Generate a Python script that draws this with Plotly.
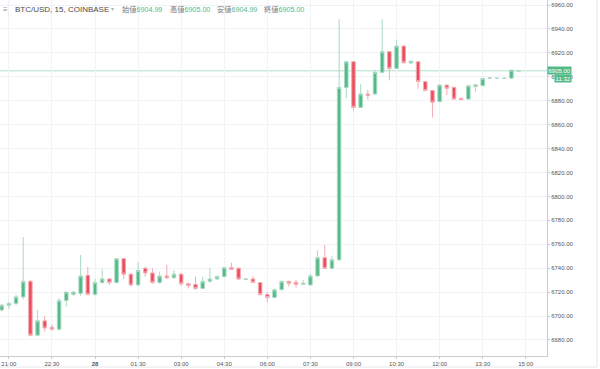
import plotly.graph_objects as go
import pandas as pd

# ---- data (15-minute candles, 20:45 -> 14:45) ----
start_time = "2018-08-27 20:45"
opens = [6705, 6709, 6710.5, 6716, 6729, 6684, 6696, 6690.5, 6689, 6713,
         6718, 6719, 6734, 6718, 6728, 6731, 6728, 6748, 6735, 6726,
         6740, 6736, 6728, 6733.5, 6732, 6735, 6727, 6726.5, 6723, 6729,
         6731, 6733, 6740.5, 6740, 6730.5, 6731, 6728, 6718, 6715.5, 6722,
         6729, 6728.2, 6726.5, 6726, 6733.5, 6748.8, 6739.9, 6747, 6891, 6912.6,
         6874.4, 6885.6, 6885.6, 6903.7, 6921, 6907, 6925.7, 6911.5, 6912.6, 6896,
         6888.6, 6879.2, 6893.1, 6891.2, 6882, 6881.4, 6891.8, 6892.6, 6898.9, 6898.7,
         6898.7, 6898.8, 6904.99]
highs = [6710, 6712, 6718, 6766, 6730, 6705, 6700, 6693, 6715, 6720,
         6721, 6751, 6741, 6731, 6739, 6731.5, 6748, 6748.5, 6735.5, 6745,
         6741, 6740, 6737, 6743, 6738.5, 6736, 6728, 6733, 6733, 6740,
         6734, 6741, 6744.6, 6740.5, 6731.5, 6733.5, 6728.5, 6720, 6723, 6729,
         6729.5, 6730.2, 6730.2, 6735.7, 6755, 6759.4, 6750.2, 6948, 6913, 6913,
         6894, 6889, 6906, 6948, 6921.5, 6931, 6926, 6913.5, 6913, 6896.5,
         6889, 6893.5, 6893.5, 6891.5, 6882.3, 6892.8, 6893.6, 6899, 6899.2, 6898.9,
         6898.9, 6905.7, 6905.0]
lows = [6704, 6706, 6709, 6714, 6683, 6683, 6687, 6688, 6688, 6708,
        6717, 6717, 6718, 6717, 6727, 6726, 6727, 6731, 6725, 6725.5,
        6733, 6727, 6727, 6731, 6731, 6725, 6723, 6722, 6722.5, 6728,
        6730, 6732, 6739, 6730, 6730, 6727.5, 6717, 6711.5, 6715, 6721.5,
        6724.6, 6723.8, 6726, 6725.5, 6733, 6739.5, 6739.5, 6746, 6882, 6872,
        6874, 6881, 6885, 6903, 6897, 6906.5, 6911, 6911, 6890, 6888,
        6866, 6878.7, 6884.8, 6881, 6880.7, 6881, 6887.6, 6892.4, 6898.7, 6898.6,
        6898.6, 6898.7, 6904.99]
closes = [6709, 6710.5, 6716, 6729, 6684, 6696, 6690, 6689, 6713, 6720,
          6720, 6733.5, 6718, 6728, 6731, 6728, 6748, 6735, 6726, 6738,
          6736, 6728, 6733.5, 6732, 6735, 6727, 6725.5, 6723, 6729, 6731,
          6733, 6740.5, 6739, 6731, 6731, 6728, 6718, 6715.5, 6722, 6729,
          6727.4, 6726.5, 6727.4, 6733.5, 6748.8, 6739.9, 6747, 6891, 6912.6, 6874.4,
          6885.6, 6884.6, 6903.7, 6921, 6907, 6925.7, 6911.8, 6913, 6896, 6888.6,
          6878.7, 6893.1, 6890.4, 6881.4, 6880.9, 6892.6, 6893.4, 6898.7, 6899, 6898.8,
          6898.8, 6905.6, 6905.0]

tick_times = ["2018-08-27 21:00", "2018-08-27 22:30", "2018-08-28 00:00", "2018-08-28 01:30",
              "2018-08-28 03:00", "2018-08-28 04:30", "2018-08-28 06:00", "2018-08-28 07:30",
              "2018-08-28 09:00", "2018-08-28 10:30", "2018-08-28 12:00", "2018-08-28 13:30",
              "2018-08-28 15:00"]
tick_labels = ["21:00", "22:30", "<b>28</b>", "01:30", "03:00", "04:30", "06:00", "07:30",
               "09:00", "10:30", "12:00", "13:30", "15:00"]

last_price = 6905.00
countdown = "11:32"
header_title = "BTC/USD, 15, COINBASE"
header_fields = [("始値", "6904.99"), ("高値", "6905.00"), ("安値", "6904.99"), ("終値", "6905.00")]

# ---- figure ----
times = pd.date_range(start_time, periods=len(opens), freq="15min")

UP = "#53b987"
DOWN = "#eb4d5c"
FONT = "Liberation Sans, Arial, Noto Sans CJK JP, sans-serif"
GRID = "#eff2f6"

W, H = 600, 369
PL, PR, PT, PB = 0, 53, 0, 13
PW, PH = W - PL - PR, H - PT - PB


def px(x):
    return (x - PL) / PW


def py(y):
    return 1 - (y - PT) / PH


fig = go.Figure()
fig.add_trace(go.Candlestick(
    x=times, open=opens, high=highs, low=lows, close=closes,
    increasing=dict(line=dict(color="#a9d9c2", width=1), fillcolor=UP),
    decreasing=dict(line=dict(color="#f3aab2", width=1), fillcolor=DOWN),
    whiskerwidth=0,
    showlegend=False,
    hoverinfo="skip",
))

annotations = []
# header
annotations.append(dict(x=px(1), y=py(9), xref="paper", yref="paper", text="≡",
                        showarrow=False, xanchor="left", yanchor="middle",
                        font=dict(family=FONT, size=8, color="#9a9a9a")))
annotations.append(dict(x=px(13), y=py(9), xref="paper", yref="paper", text=header_title,
                        showarrow=False, xanchor="left", yanchor="middle",
                        font=dict(family=FONT, size=8.0, color="#4a4a4a")))
annotations.append(dict(x=px(109), y=py(9), xref="paper", yref="paper", text="▾",
                        showarrow=False, xanchor="left", yanchor="middle",
                        font=dict(family=FONT, size=6, color="#b0b0b0")))
field_x = [120, 168, 215, 262]
for (lab, val), fx in zip(header_fields, field_x):
    annotations.append(dict(x=px(fx), y=py(9), xref="paper", yref="paper",
                            text=f"<span style='color:#7a7a7a'>{lab}</span><span style='color:{UP}'>{val}</span>",
                            showarrow=False, xanchor="left", yanchor="middle",
                            font=dict(family=FONT, size=7.2, color=UP)))

# price label boxes on the right axis
annotations.append(dict(x=px(572), y=last_price, xref="paper", yref="y", text=f"{last_price:.2f}",
                        showarrow=False, xanchor="right", yanchor="middle",
                        bgcolor=UP, borderpad=0.5,
                        font=dict(family=FONT, size=6, color="white")))
annotations.append(dict(x=px(572), y=py(78.5), xref="paper", yref="paper", text=countdown,
                        showarrow=False, xanchor="right", yanchor="middle",
                        bgcolor=UP, borderpad=0.5,
                        font=dict(family=FONT, size=6, color="white")))

shapes = [
    # last price line
    dict(type="line", xref="paper", yref="y", x0=0, x1=1, y0=last_price, y1=last_price,
         line=dict(color="rgba(83,185,135,0.45)", width=1), layer="below"),
    # widget frame
    dict(type="line", xref="paper", yref="paper", x0=px(0), x1=px(597), y0=py(367), y1=py(367),
         line=dict(color="#e3e6ea", width=1)),
    dict(type="line", xref="paper", yref="paper", x0=px(597), x1=px(597), y0=py(0), y1=py(367),
         line=dict(color="#e3e6ea", width=1)),
]

fig.update_layout(
    width=W, height=H,
    margin=dict(l=PL, r=PR, t=PT, b=PB),
    paper_bgcolor="white", plot_bgcolor="white",
    font=dict(family=FONT, size=6, color="#555555"),
    annotations=annotations,
    shapes=shapes,
    xaxis=dict(
        range=["2018-08-27 20:41:30", "2018-08-28 15:44:20"],
        rangeslider=dict(visible=False),
        tickvals=tick_times, ticktext=tick_labels,
        showgrid=True, gridcolor=GRID, gridwidth=1,
        showline=True, linecolor="#c9cdd2", linewidth=1,
        ticks="outside", ticklen=2, tickcolor="#c9cdd2",
        tickfont=dict(family=FONT, size=6, color="#555555"),
        zeroline=False, fixedrange=True,
    ),
    yaxis=dict(
        side="right",
        range=[6666.6, 6964.2],
        tick0=6680, dtick=20, tickformat=".2f",
        showgrid=True, gridcolor=GRID, gridwidth=1,
        showline=True, linecolor="#c9cdd2", linewidth=1,
        ticks="outside", ticklen=2, tickcolor="#c9cdd2",
        tickfont=dict(family=FONT, size=6, color="#555555"),
        zeroline=False, fixedrange=True,
    ),
)

fig.write_html("out.html", config={"displayModeBar": False},
               post_script="document.body.style.margin='0';document.body.style.padding='0';")
